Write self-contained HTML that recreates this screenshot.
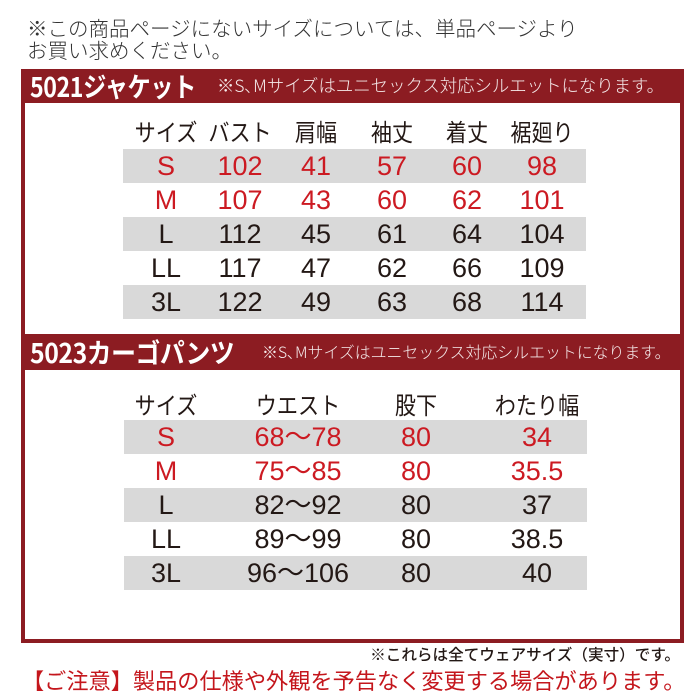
<!DOCTYPE html>
<html><head><meta charset="utf-8">
<style>
*{margin:0;padding:0;box-sizing:border-box}
html,body{width:700px;height:700px;background:#fff;overflow:hidden}
body{position:relative;font-family:"Liberation Sans","Noto Sans CJK JP",sans-serif;color:#231815}
.a{position:absolute;white-space:nowrap}
.jp{font-family:"Noto Sans CJK JP",sans-serif}
.box{position:absolute;left:21px;top:69px;width:663px;height:574px;border:4px solid #8c1c22;background:#fff}
.bar{position:absolute;left:21px;width:663px;background:#8c1c22}
.band{position:absolute;background:#d9d9d9;height:34px}
.c{position:absolute;text-align:center;width:120px;margin-left:-60px;font-size:27px;line-height:34px;height:34px}
.h{position:absolute;text-align:center;width:120px;margin-left:-60px;font-size:24px;line-height:30px;font-family:"Noto Sans CJK JP",sans-serif;color:#231815;transform:scaleX(0.88)}
.r{color:#cc1a22}
.k{color:#231815}
</style></head><body>

<div class="a jp" style="left:27px;top:16px;font-size:20.5px;line-height:22px;color:#333;font-weight:300">※この商品ページにないサイズについては、単品ページより<br>お買い求めください。</div>

<div class="box"></div>
<div class="bar" style="top:69px;height:34px"></div>
<div class="bar" style="top:334px;height:36px"></div>

<div class="a jp" style="left:30px;top:69px;height:34px;line-height:34px;font-size:27px;font-weight:700;color:#fff;transform:scaleX(0.86);transform-origin:0 50%;letter-spacing:-0.5px">5021ジャケット</div>
<div class="a jp" style="left:217px;top:69px;height:34px;line-height:34px;font-size:17.4px;color:#f5eaea;font-weight:300">※S､Mサイズはユニセックス対応シルエットになります。</div>

<div class="a jp" style="left:30px;top:334px;height:36px;line-height:36px;font-size:27px;font-weight:700;color:#fff;transform:scaleX(0.92);transform-origin:0 50%;letter-spacing:-0.5px">5023カーゴパンツ</div>
<div class="a jp" style="left:262px;top:334px;height:36px;line-height:36px;font-size:15.9px;color:#f5eaea;font-weight:300">※S､Mサイズはユニセックス対応シルエットになります。</div>

<!-- Table 1 -->
<div class="band" style="left:123px;width:463px;top:149px"></div>
<div class="band" style="left:123px;width:463px;top:217px"></div>
<div class="band" style="left:123px;width:463px;top:285px"></div>

<div class="h" style="left:166px;top:116px">サイズ</div>
<div class="h" style="left:240px;top:116px">バスト</div>
<div class="h" style="left:316px;top:116px">肩幅</div>
<div class="h" style="left:392px;top:116px">袖丈</div>
<div class="h" style="left:467px;top:116px">着丈</div>
<div class="h" style="left:542px;top:116px">裾廻り</div>

<div class="c r" style="left:166px;top:149px">S</div>
<div class="c r" style="left:240px;top:149px">102</div>
<div class="c r" style="left:316px;top:149px">41</div>
<div class="c r" style="left:392px;top:149px">57</div>
<div class="c r" style="left:467px;top:149px">60</div>
<div class="c r" style="left:542px;top:149px">98</div>

<div class="c r" style="left:166px;top:183px">M</div>
<div class="c r" style="left:240px;top:183px">107</div>
<div class="c r" style="left:316px;top:183px">43</div>
<div class="c r" style="left:392px;top:183px">60</div>
<div class="c r" style="left:467px;top:183px">62</div>
<div class="c r" style="left:542px;top:183px">101</div>

<div class="c k" style="left:166px;top:217px">L</div>
<div class="c k" style="left:240px;top:217px">112</div>
<div class="c k" style="left:316px;top:217px">45</div>
<div class="c k" style="left:392px;top:217px">61</div>
<div class="c k" style="left:467px;top:217px">64</div>
<div class="c k" style="left:542px;top:217px">104</div>

<div class="c k" style="left:166px;top:251px">LL</div>
<div class="c k" style="left:240px;top:251px">117</div>
<div class="c k" style="left:316px;top:251px">47</div>
<div class="c k" style="left:392px;top:251px">62</div>
<div class="c k" style="left:467px;top:251px">66</div>
<div class="c k" style="left:542px;top:251px">109</div>

<div class="c k" style="left:166px;top:285px">3L</div>
<div class="c k" style="left:240px;top:285px">122</div>
<div class="c k" style="left:316px;top:285px">49</div>
<div class="c k" style="left:392px;top:285px">63</div>
<div class="c k" style="left:467px;top:285px">68</div>
<div class="c k" style="left:542px;top:285px">114</div>

<!-- Table 2 -->
<div class="band" style="left:124px;width:463px;top:420px"></div>
<div class="band" style="left:124px;width:463px;top:488px"></div>
<div class="band" style="left:124px;width:463px;top:556px"></div>

<div class="h" style="left:166px;top:389px">サイズ</div>
<div class="h" style="left:298px;top:389px">ウエスト</div>
<div class="h" style="left:416px;top:389px">股下</div>
<div class="h" style="left:537px;top:389px">わたり幅</div>

<div class="c r" style="left:166px;top:420px">S</div>
<div class="c r" style="left:298px;top:420px">68〜78</div>
<div class="c r" style="left:416px;top:420px">80</div>
<div class="c r" style="left:537px;top:420px">34</div>

<div class="c r" style="left:166px;top:454px">M</div>
<div class="c r" style="left:298px;top:454px">75〜85</div>
<div class="c r" style="left:416px;top:454px">80</div>
<div class="c r" style="left:537px;top:454px">35.5</div>

<div class="c k" style="left:166px;top:488px">L</div>
<div class="c k" style="left:298px;top:488px">82〜92</div>
<div class="c k" style="left:416px;top:488px">80</div>
<div class="c k" style="left:537px;top:488px">37</div>

<div class="c k" style="left:166px;top:522px">LL</div>
<div class="c k" style="left:298px;top:522px">89〜99</div>
<div class="c k" style="left:416px;top:522px">80</div>
<div class="c k" style="left:537px;top:522px">38.5</div>

<div class="c k" style="left:166px;top:556px">3L</div>
<div class="c k" style="left:298px;top:556px">96〜106</div>
<div class="c k" style="left:416px;top:556px">80</div>
<div class="c k" style="left:537px;top:556px">40</div>

<!-- Footer -->
<div class="a jp" style="right:20px;top:644px;font-size:15.6px;line-height:20px;color:#231815;font-weight:500">※これらは全てウェアサイズ（実寸）です。</div>
<div class="a jp" style="left:22px;top:666px;font-size:22.2px;line-height:28px;color:#c4161c;font-weight:400">【ご注意】製品の仕様や外観を予告なく変更する場合があります。</div>

</body></html>
